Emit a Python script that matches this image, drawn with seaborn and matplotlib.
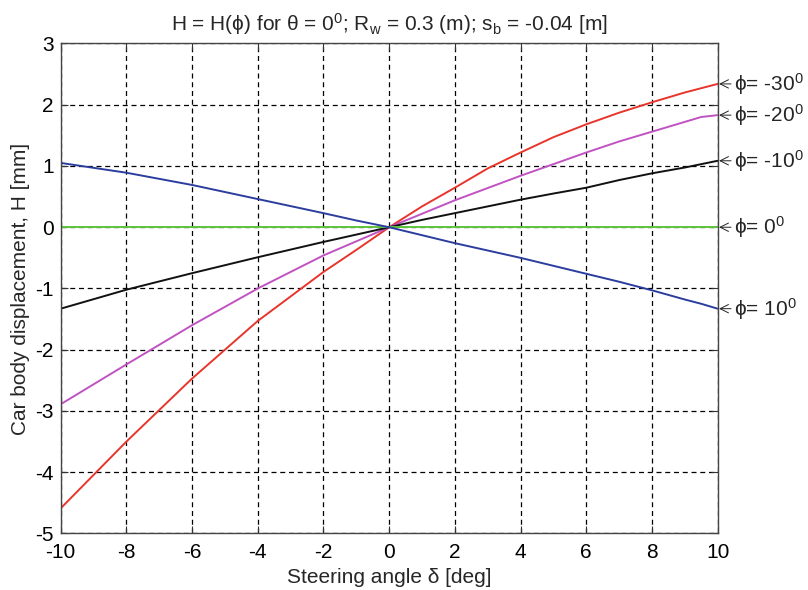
import matplotlib
matplotlib.use("Agg")
import matplotlib.pyplot as plt
import numpy as np
import pandas as pd
import seaborn as sns

# Steering angle samples [deg]
delta = [-10, -8, -6, -4, -2, -1, 0, 1, 2, 3, 4, 5, 6, 7, 8, 9, 9.5, 10]

# Car body displacement H [mm] for each camber angle phi
h_phi_m30 = [-4.59, -3.50, -2.47, -1.53, -0.73, -0.37, 0.0, 0.34, 0.645, 0.96, 1.22,
             1.47, 1.68, 1.87, 2.04, 2.20, 2.27, 2.34]
h_phi_m20 = [-2.89, -2.24, -1.60, -1.00, -0.46, -0.23, 0.0, 0.22, 0.44, 0.64, 0.84,
             1.03, 1.22, 1.40, 1.56, 1.72, 1.80, 1.83]
h_phi_m10 = [-1.33, -1.02, -0.75, -0.49, -0.24, -0.12, 0.0, 0.12, 0.23, 0.34, 0.45,
             0.55, 0.645, 0.77, 0.88, 0.975, 1.03, 1.085]
h_phi_0 = [0.0] * len(delta)
h_phi_p10 = [1.05, 0.89, 0.69, 0.46, 0.23, 0.11, 0.0, -0.13, -0.26, -0.38, -0.50,
             -0.63, -0.76, -0.89, -1.03, -1.18, -1.25, -1.33]

series_names = ["-30", "-20", "-10", "0", "10"]
series_vals = [h_phi_m30, h_phi_m20, h_phi_m10, h_phi_0, h_phi_p10]
series_labels = ["ϕ= -30$^0$", "ϕ= -20$^0$", "ϕ= -10$^0$", "ϕ= 0$^0$", "ϕ= 10$^0$"]
colors = ["#e8352c", "#c052c2", "#111111", "#5ec43e", "#2b3d9e"]

x_ticks = [-10, -8, -6, -4, -2, 0, 2, 4, 6, 8, 10]
y_ticks = [-5, -4, -3, -2, -1, 0, 1, 2, 3]

df = pd.concat(
    [pd.DataFrame({"delta": delta, "H": v, "phi": n}) for n, v in zip(series_names, series_vals)],
    ignore_index=True,
)

sns.set_theme(style="white")
plt.rcParams["font.family"] = ["Liberation Sans", "DejaVu Sans"]
plt.rcParams["mathtext.fontset"] = "custom"
plt.rcParams["mathtext.rm"] = "Liberation Sans"
plt.rcParams["mathtext.it"] = "Liberation Sans:italic"
plt.rcParams["mathtext.default"] = "regular"

fig = plt.figure(figsize=(8.08, 5.90), dpi=100)
ax = fig.add_axes([0.0751, 0.0958, 0.8131, 0.8305])

sns.lineplot(
    data=df, x="delta", y="H", hue="phi", hue_order=series_names,
    palette=dict(zip(series_names, colors)), linewidth=1.4,
    legend=False, ax=ax, sort=False,
)

ax.set_xlim(-10, 10)
ax.set_ylim(-5, 3)
ax.set_xticks(x_ticks)
ax.set_yticks(y_ticks)
ax.set_xticklabels([str(t) for t in x_ticks])
ax.set_yticklabels([str(t) for t in y_ticks])
ax.tick_params(direction="in", length=5, width=0.8, colors="#333333",
               labelcolor="black", labelsize=15, top=True, right=True,
               bottom=True, left=True)
ax.tick_params(axis="x", pad=7)
ax.tick_params(axis="y", pad=5)
ax.grid(True, linestyle=(0, (4, 3)), color="black", linewidth=0.9)
for s in ax.spines.values():
    s.set_color("#444444")
    s.set_linewidth(1.0)

ax.set_xlabel("Steering angle δ [deg]", fontsize=15, labelpad=4)
ax.set_ylabel("Car body displacement, H [mm]", fontsize=15, labelpad=4)
ax.set_title("H = H(ϕ) for θ = 0$^0$; R$_w$ = 0.3 (m); s$_b$ = -0.04 [m]",
             fontsize=15, pad=9)

# Curve labels on the right edge, arrows pointing at each curve's end value
for vals, lab in zip(series_vals, series_labels):
    ax.annotate(lab, xy=(1.0, vals[-1]), xycoords=("axes fraction", "data"),
                xytext=(12, 0), textcoords="offset points", va="center",
                ha="left", fontsize=15, annotation_clip=False,
                arrowprops=dict(arrowstyle="->", lw=0.7, color="#222222",
                                shrinkA=0, shrinkB=1))

fig.savefig("out.png", dpi=100)
